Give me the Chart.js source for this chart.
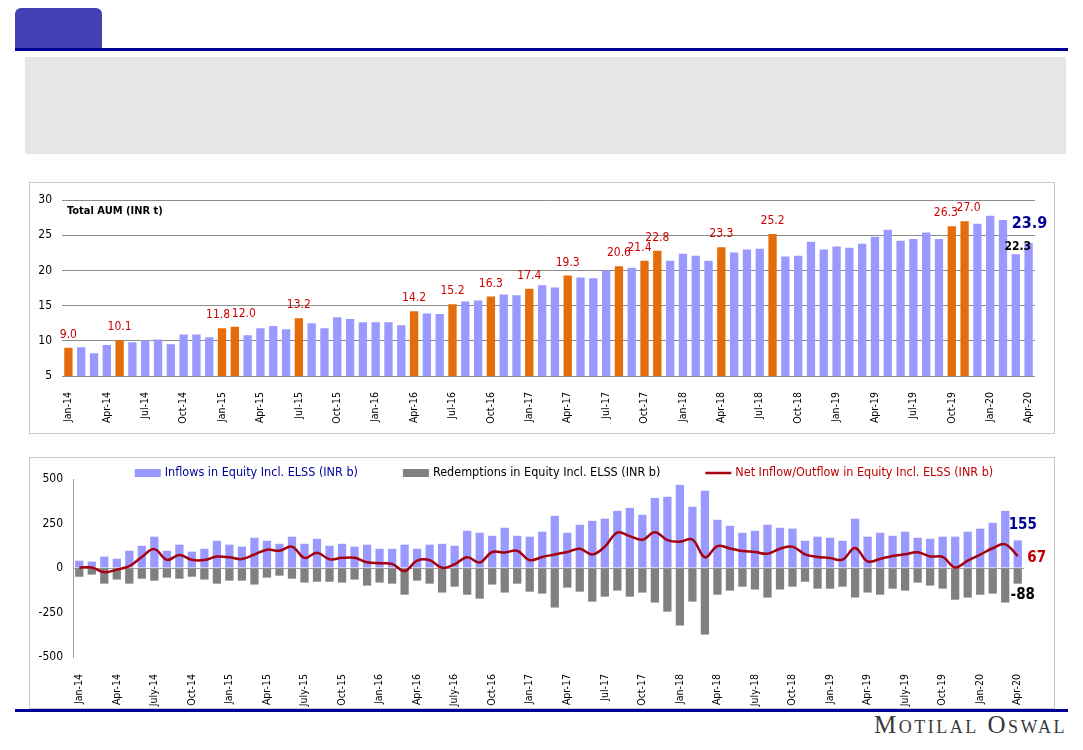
<!DOCTYPE html>
<html>
<head>
<meta charset="utf-8">
<script src="https://cdn.jsdelivr.net/npm/chart.js@4.4.0/dist/chart.umd.min.js"></script>
<style>
  body { margin: 0; width: 1083px; height: 750px; background: #fff; position: relative; overflow: hidden; }
  .tab { position: absolute; left: 15px; top: 8px; width: 87px; height: 41px; background: #4242b4; border-radius: 6px 6px 0 0; }
  .rule { position: absolute; left: 15px; width: 1053px; height: 3px; background: #000099; }
  .note { position: absolute; left: 25px; top: 57px; width: 1041px; height: 97px; background: #e6e6e6; }
  .box { position: absolute; left: 29px; width: 1024px; height: 250px; border: 1px solid #c8c8c8; }
  .box canvas { position: absolute; left: 0; top: 0; }
  .brand { position: absolute; right: 16px; top: 711px; font-family: "Liberation Serif", serif; font-variant: small-caps;
           font-size: 25px; letter-spacing: 2.5px; color: #3a3a3a; }
</style>
</head>
<body>
<div class="tab"></div>
<div class="rule" style="top:48px"></div>
<div class="note"></div>
<div class="box" style="top:182px"><canvas id="aum" width="1024" height="250"></canvas></div>
<div class="box" style="top:457px"><canvas id="flows" width="1024" height="250"></canvas></div>
<div class="rule" style="top:709px"></div>
<div class="brand">Motilal Oswal</div>

<script>
const FONT = '"DejaVu Sans Condensed", "DejaVu Sans", sans-serif';

const months = [
  'Jan-14','Feb-14','Mar-14','Apr-14','May-14','Jun-14','Jul-14','Aug-14','Sep-14','Oct-14','Nov-14','Dec-14',
  'Jan-15','Feb-15','Mar-15','Apr-15','May-15','Jun-15','Jul-15','Aug-15','Sep-15','Oct-15','Nov-15','Dec-15',
  'Jan-16','Feb-16','Mar-16','Apr-16','May-16','Jun-16','Jul-16','Aug-16','Sep-16','Oct-16','Nov-16','Dec-16',
  'Jan-17','Feb-17','Mar-17','Apr-17','May-17','Jun-17','Jul-17','Aug-17','Sep-17','Oct-17','Nov-17','Dec-17',
  'Jan-18','Feb-18','Mar-18','Apr-18','May-18','Jun-18','Jul-18','Aug-18','Sep-18','Oct-18','Nov-18','Dec-18',
  'Jan-19','Feb-19','Mar-19','Apr-19','May-19','Jun-19','Jul-19','Aug-19','Sep-19','Oct-19','Nov-19','Dec-19',
  'Jan-20','Feb-20','Mar-20','Apr-20'
];

// Total AUM (INR t)
const aum = [
  9.0, 9.1, 8.25, 9.4, 10.1, 9.8, 10.1, 10.2, 9.5, 10.9, 10.9, 10.5,
  11.8, 12.0, 10.8, 11.8, 12.1, 11.65, 13.2, 12.5, 11.8, 13.35, 13.1, 12.65,
  12.65, 12.65, 12.2, 14.2, 13.9, 13.8, 15.2, 15.6, 15.75, 16.3, 16.6, 16.5,
  17.4, 17.9, 17.6, 19.3, 19.0, 18.9, 20.0, 20.6, 20.4, 21.4, 22.8, 21.4,
  22.4, 22.1, 21.4, 23.3, 22.55, 23.0, 23.1, 25.2, 22.0, 22.1, 24.1, 23.0,
  23.4, 23.25, 23.8, 24.8, 25.8, 24.25, 24.5, 25.4, 24.5, 26.3, 27.0, 26.65,
  27.8, 27.2, 22.3, 23.9
];
const highlightMonths = ['Jan-14','May-14','Jan-15','Feb-15','Jul-15','Apr-16','Jul-16','Oct-16','Jan-17',
  'Apr-17','Aug-17','Oct-17','Nov-17','Apr-18','Aug-18','Oct-19','Nov-19'];

// Equity flows (INR b)
const inflows = [
  41, 36, 64, 52, 97, 125, 176, 97, 131, 92, 108, 153,
  131, 120, 170, 153, 136, 176, 136, 164, 125, 136, 120, 131,
  108, 108, 131, 108, 131, 136, 125, 209, 198, 181, 226, 181,
  176, 204, 293, 198, 243, 265, 277, 321, 338, 299, 394, 400,
  467, 344, 434, 271, 237, 198, 209, 243, 226, 221, 153, 176,
  170, 153, 277, 176, 198, 181, 204, 170, 164, 176, 176, 204,
  221, 254, 321, 155
];
const redemptions = [
  -49, -37, -88, -65, -88, -60, -71, -54, -60, -49, -65, -88,
  -71, -71, -93, -54, -43, -60, -82, -77, -77, -82, -65, -99,
  -82, -88, -150, -71, -88, -138, -105, -150, -172, -93, -138, -88,
  -133, -144, -222, -110, -133, -189, -161, -127, -161, -138, -194, -245,
  -323, -189, -374, -150, -127, -105, -121, -166, -121, -105, -77, -116,
  -116, -105, -166, -138, -150, -116, -127, -82, -99, -116, -178, -166,
  -150, -144, -194, -88
];
const netFlows = [
  2, 3, -24, -9, 10, 62, 106, 46, 73, 46, 45, 64,
  60, 50, 76, 103, 97, 120, 57, 86, 49, 57, 57, 32,
  27, 23, -17, 41, 44, 1, 21, 60, 31, 90, 87, 97,
  44, 62, 76, 90, 108, 76, 120, 199, 179, 159, 201, 157,
  148, 160, 60, 123, 110, 95, 90, 80, 108, 120, 77, 62,
  56, 47, 113, 37, 51, 68, 77, 88, 65, 62, 3, 41,
  75, 111, 133, 67
];
const flowTicks = ['Jan-14','Apr-14','July-14','Oct-14','Jan-15','Apr-15','July-15','Oct-15','Jan-16','Apr-16',
  'July-16','Oct-16','Jan-17','Apr-17','Jul-17','Oct-17','Jan-18','Apr-18','July-18','Oct-18','Jan-19',
  'Apr-19','July-19','Oct-19','Jan-20','Apr-20'];

const aumColors = months.map(m => highlightMonths.includes(m) ? '#e46c0a' : '#9999ff');
// small sideways nudges where neighbouring labels would collide
const labelNudge = { 'Jan-15': -4, 'Feb-15': 9, 'Oct-17': -5, 'Oct-19': -6, 'Nov-19': 4 };

// value labels above the highlighted bars plus the last two months
const aumLabels = {
  id: 'aumLabels',
  afterDatasetsDraw(chart) {
    const ctx = chart.ctx;
    const bars = chart.getDatasetMeta(0).data;
    ctx.save();
    ctx.textAlign = 'center';
    ctx.textBaseline = 'middle';
    months.forEach((m, i) => {
      const b = bars[i];
      const txt = aum[i].toFixed(1);
      if (highlightMonths.includes(m)) {
        ctx.font = '12px ' + FONT;
        ctx.fillStyle = '#cc0000';
        ctx.fillText(txt, b.x + (labelNudge[m] || 0), b.y - 13);
      } else if (i === aum.length - 2) {
        ctx.font = 'bold 12px ' + FONT;
        ctx.fillStyle = '#000';
        ctx.fillText(txt, b.x + 2, b.y - 7);
      } else if (i === aum.length - 1) {
        ctx.font = 'bold 16px ' + FONT;
        ctx.fillStyle = '#000099';
        ctx.fillText(txt, b.x + 1, b.y - 19);
      }
    });
    ctx.font = 'bold 11px ' + FONT;
    ctx.fillStyle = '#000';
    ctx.textAlign = 'left';
    ctx.fillText('Total AUM (INR t)', chart.chartArea.left + 5, chart.chartArea.top + 11);
    ctx.restore();
  }
};

new Chart(document.getElementById('aum'), {
  type: 'bar',
  data: {
    labels: months,
    datasets: [{
      data: aum,
      backgroundColor: aumColors,
      borderWidth: 0,
      barPercentage: 0.65,
      categoryPercentage: 1
    }]
  },
  options: {
    responsive: false,
    animation: false,
    layout: { padding: { top: 16, right: 19, left: 0, bottom: 0 } },
    plugins: { legend: { display: false }, tooltip: { enabled: false } },
    scales: {
      x: {
        grid: { display: false },
        border: { display: false },
        afterFit(s) { s.height = 57; },
        ticks: {
          autoSkip: false, maxRotation: 90, minRotation: 90, padding: 8,
          color: '#000', font: { family: FONT, size: 10.5 },
          callback(v, i) { return i % 3 === 0 ? months[i] : ''; }
        }
      },
      y: {
        min: 5, max: 30,
        afterFit(s) { s.width = 32; },
        grid: { color: '#8c8c8c', drawTicks: false },
        border: { display: false },
        ticks: { stepSize: 5, padding: 10, color: '#000', font: { family: FONT, size: 12 } }
      }
    }
  },
  plugins: [aumLabels]
});

// legend drawn along the top of the flows panel, plus end-of-series labels
const flowsExtras = {
  id: 'flowsExtras',
  afterDatasetsDraw(chart) {
    const ctx = chart.ctx;
    ctx.save();
    const items = [
      { ds: 1, text: '#000099' },
      { ds: 2, text: '#000' },
      { ds: 0, text: '#c00000' }
    ];
    ctx.font = '12.5px ' + FONT;
    const gap = 45, box = 26;
    const widths = items.map(it => box + 4 + ctx.measureText(chart.data.datasets[it.ds].label).width);
    let x = 534 - (widths.reduce((a, b) => a + b, 0) + gap * (items.length - 1)) / 2;
    const y = 15;
    ctx.textBaseline = 'middle';
    ctx.textAlign = 'left';
    items.forEach((it, k) => {
      const ds = chart.data.datasets[it.ds];
      if (ds.type === 'line') {
        ctx.strokeStyle = ds.borderColor;
        ctx.lineWidth = 2.5;
        ctx.beginPath(); ctx.moveTo(x, y); ctx.lineTo(x + box, y); ctx.stroke();
      } else {
        ctx.fillStyle = ds.backgroundColor;
        ctx.fillRect(x, y - 4, box, 8);
      }
      ctx.fillStyle = it.text;
      ctx.fillText(ds.label, x + box + 4, y);
      x += widths[k] + gap;
    });

    const last = inflows.length - 1;
    const inBar = chart.getDatasetMeta(1).data[last];
    const outBar = chart.getDatasetMeta(2).data[last];
    const netPt = chart.getDatasetMeta(0).data[last];
    ctx.textAlign = 'center';
    ctx.font = 'bold 15px ' + FONT;
    ctx.fillStyle = '#000099';
    ctx.fillText(String(inflows[last]), inBar.x + 5, inBar.y - 15);
    ctx.fillStyle = '#c00000';
    ctx.fillText(String(netFlows[last]), netPt.x + 19, netPt.y + 2);
    ctx.fillStyle = '#000';
    ctx.fillText(String(redemptions[last]), outBar.x + 5, outBar.y + 11);
    ctx.restore();
  }
};

new Chart(document.getElementById('flows'), {
  data: {
    labels: months,
    datasets: [
      {
        type: 'line', label: 'Net Inflow/Outflow in Equity Incl. ELSS (INR b)', data: netFlows,
        borderColor: '#a50010', borderWidth: 2.5, pointRadius: 0, tension: 0.4, order: 0
      },
      {
        type: 'bar', label: 'Inflows in Equity Incl. ELSS (INR b)', data: inflows,
        backgroundColor: '#9999ff', borderWidth: 0, barPercentage: 0.66, categoryPercentage: 1,
        grouped: false, order: 1
      },
      {
        type: 'bar', label: 'Redemptions in Equity Incl. ELSS (INR b)', data: redemptions,
        backgroundColor: '#808080', borderWidth: 0, barPercentage: 0.66, categoryPercentage: 1,
        grouped: false, order: 2
      }
    ]
  },
  options: {
    responsive: false,
    animation: false,
    layout: { padding: { top: 21, right: 30, left: 0, bottom: 0 } },
    plugins: { legend: { display: false }, tooltip: { enabled: false } },
    scales: {
      x: {
        grid: { display: false },
        border: { display: false },
        afterFit(s) { s.height = 51; },
        ticks: {
          autoSkip: false, maxRotation: 90, minRotation: 90, padding: 9,
          color: '#000', font: { family: FONT, size: 10.5 },
          callback(v, i) { return i % 3 === 0 ? flowTicks[i / 3] : ''; }
        }
      },
      y: {
        min: -500, max: 500,
        afterFit(s) { s.width = 43; },
        grid: { drawTicks: false, color: c => c.tick && c.tick.value === 0 ? '#a0a0a0' : 'rgba(0,0,0,0)' },
        border: { display: true, color: '#a0a0a0' },
        ticks: { stepSize: 250, padding: 10, color: '#000', font: { family: FONT, size: 12 } }
      }
    }
  },
  plugins: [flowsExtras]
});
</script>
</body>
</html>
